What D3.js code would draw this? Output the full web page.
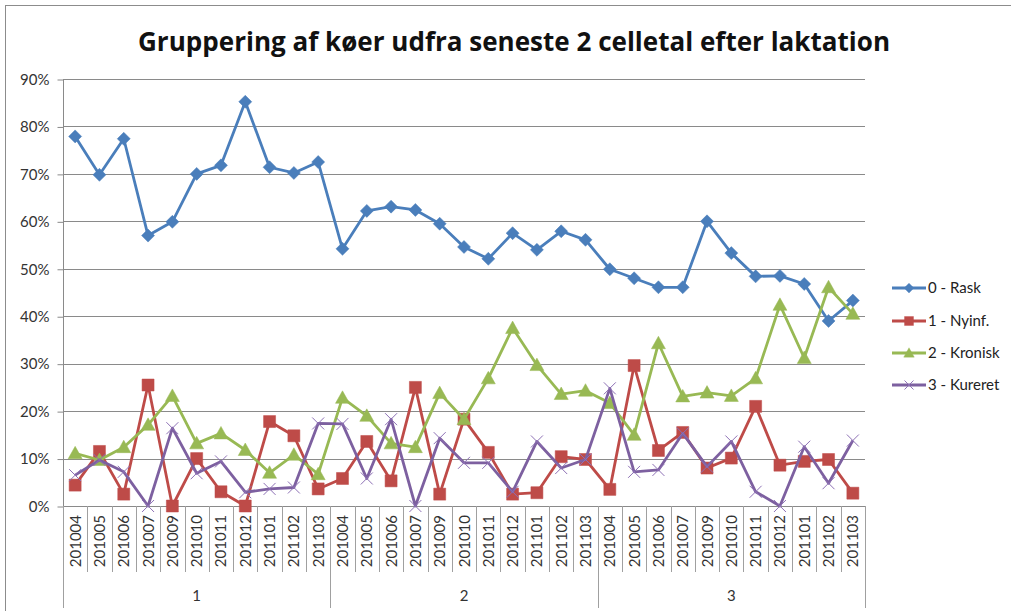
<!DOCTYPE html>
<html><head><meta charset="utf-8">
<script src="https://cdn.jsdelivr.net/npm/d3@7"></script>
<style>
html,body{margin:0;padding:0;background:#fff;}
svg{display:block;font-family:Lato,"Open Sans",sans-serif;}
</style></head>
<body><svg id="c" width="1011" height="611"></svg>
<script>
const months = ["201004","201005","201006","201007","201009","201010","201011","201012","201101","201102","201103"];
const groups = ["1","2","3"];
const yTicks = [0,0.1,0.2,0.3,0.4,0.5,0.6,0.7,0.8,0.9];
const seriesNames = ["0 - Rask","1 - Nyinf.","2 - Kronisk","3 - Kureret"];
const rask = [77.9,69.8,77.4,57.0,59.9,70.0,71.8,85.2,71.4,70.2,72.5, 54.2,62.2,63.1,62.4,59.5,54.6,52.1,57.5,54.0,57.9,56.1, 49.9,48.0,46.1,46.1,60.0,53.3,48.4,48.5,46.8,39.0,43.3];
const nyinf = [4.4,11.5,2.5,25.5,0,10.0,3.0,0,17.8,14.8,3.6, 5.8,13.6,5.3,25.0,2.5,18.3,11.3,2.5,2.8,10.4,9.8, 3.5,29.6,11.7,15.5,8.0,10.1,21.0,8.6,9.4,9.8,2.7];
const kronisk = [11.1,9.7,12.4,17.1,23.2,13.2,15.3,11.8,7.0,10.8,6.7, 22.8,19.0,13.2,12.4,23.8,18.3,26.9,37.5,29.7,23.6,24.3, 21.7,15.0,34.3,23.1,23.9,23.2,26.9,42.4,31.2,46.1,40.5];
const kureret = [6.5,9.7,7.2,0,16.4,6.9,9.4,2.9,3.6,3.9,17.4, 17.3,5.8,18.3,0,14.3,9.1,9.1,3.0,13.6,8.0,9.8, 24.8,7.2,7.6,15.3,8.3,13.6,3.0,0,12.5,4.8,13.8];

const categories = [];
groups.forEach(g => months.forEach(m => categories.push({g, m})));
const seriesData = [rask, nyinf, kronisk, kureret];
const colors = ["#4A7EBB","#BE4B48","#98B954","#7D60A0"];
const markerColors = ["#4A7EBB","#BE4B48","#98B954","#8D70B5"];
const shapes = ["diamond","square","triangle","x"];

const svg = d3.select("#c");
const L = 63, R = 865, T = 79, B = 506;

// outer border
svg.append("rect").attr("x",5.5).attr("y",5.5).attr("width",1100).attr("height",700)
  .attr("fill","none").attr("stroke","#8c8c8c").attr("stroke-width",1);

// title
svg.append("text").attr("x",514).attr("y",51).attr("text-anchor","middle")
  .attr("font-family","'Open Sans',Lato,sans-serif").attr("font-weight","bold")
  .attr("font-size",27).attr("fill","#111")
  .attr("textLength",752).attr("lengthAdjust","spacingAndGlyphs")
  .text("Gruppering af køer udfra seneste 2 celletal efter laktation");

const x = d3.scaleBand().domain(d3.range(categories.length)).range([L,R]);
const y = d3.scaleLinear().domain([0,0.9]).range([B,T]);
const cx = i => x(i) + x.bandwidth()/2;

// gridlines
svg.append("g").selectAll("line").data(yTicks).join("line")
  .attr("x1",L).attr("x2",R).attr("y1",d=>Math.round(y(d))+0.5).attr("y2",d=>Math.round(y(d))+0.5)
  .attr("stroke","#8a8a8a").attr("stroke-width",1);

// y axis
const yAxis = d3.axisLeft(y).tickValues(yTicks).tickFormat(d3.format(".0%")).tickSize(6).tickPadding(8);
const ya = svg.append("g").attr("transform",`translate(${L+0.5},0.5)`).call(yAxis);
ya.select(".domain").attr("stroke","#8a8a8a").attr("d",`M0,${T-0.5}V${B-0.5}`);
ya.selectAll(".tick line").attr("stroke","#8a8a8a");
ya.selectAll(".tick text").attr("font-size",15).attr("fill","#333").attr("font-family","Lato,sans-serif");

// x axis category labels
const xa = svg.append("g");
// category separators
const sepIdx = d3.range(categories.length+1);
xa.selectAll("line.cat").data(sepIdx).join("line").attr("class","cat")
  .attr("x1",i=>Math.round(L + i*x.step())+0.5).attr("x2",i=>Math.round(L + i*x.step())+0.5)
  .attr("y1",B).attr("y2",i=> (i % months.length === 0) ? 608 : 572)
  .attr("stroke","#a0a0a0").attr("stroke-width",1);
xa.selectAll("text.cat").data(categories).join("text").attr("class","cat")
  .attr("transform",(d,i)=>`translate(${cx(i)+5.5},515) rotate(-90)`)
  .attr("text-anchor","end").attr("font-size",15).attr("fill","#333")
  .text(d=>d.m);
xa.selectAll("text.grp").data(groups).join("text").attr("class","grp")
  .attr("x",(g,gi)=> (L + (gi*months.length + months.length/2)*x.step()))
  .attr("y",601).attr("text-anchor","middle").attr("font-size",15).attr("fill","#333")
  .text(g=>g);

// marker path generator
function markerPath(shape){
  switch(shape){
    case "diamond": return "M0,-6.5L6.5,0L0,6.5L-6.5,0Z";
    case "square": return "M-6,-6H6V6H-6Z";
    case "triangle": return "M0,-7L7,5.5H-7Z";
    case "x": return "M-6,-6L6,6M-6,6L6,-6";
  }
}

const line = d3.line().x((d,i)=>cx(i)).y(d=>y(d/100));
seriesData.forEach((vals, si) => {
  const g = svg.append("g");
  g.append("path").datum(vals).attr("d",line).attr("fill","none")
    .attr("stroke",colors[si]).attr("stroke-width",2.8).attr("stroke-linejoin","round");
  g.selectAll("path.m").data(vals).join("path").attr("class","m")
    .attr("transform",(d,i)=>`translate(${cx(i)},${y(d/100)})`)
    .attr("d",markerPath(shapes[si]))
    .attr("fill", shapes[si]==="x" ? "none" : markerColors[si])
    .attr("stroke", markerColors[si]).attr("stroke-width", shapes[si]==="x" ? 1 : 0.5);
});

// legend
const lg = svg.append("g");
const ly = [288, 321, 353, 385];
seriesNames.forEach((n, si) => {
  lg.append("line").attr("x1",892).attr("x2",926).attr("y1",ly[si]).attr("y2",ly[si])
    .attr("stroke",colors[si]).attr("stroke-width",2.8);
  lg.append("path").attr("transform",`translate(909,${ly[si]}) scale(0.75)`)
    .attr("d",markerPath(shapes[si]))
    .attr("fill", shapes[si]==="x" ? "none" : markerColors[si])
    .attr("stroke", markerColors[si]).attr("stroke-width", shapes[si]==="x" ? 1.3 : 0.5);
  lg.append("text").attr("x",928).attr("y",ly[si]+5).attr("font-size",15).attr("fill","#222").text(n);
});
</script></body></html>
